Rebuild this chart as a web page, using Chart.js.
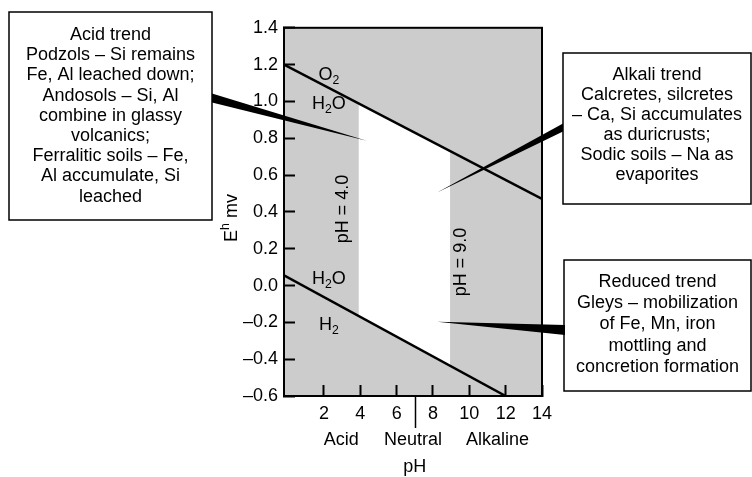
<!DOCTYPE html>
<html>
<head>
<meta charset="utf-8">
<script src="https://cdn.jsdelivr.net/npm/chart.js@4.4.0/dist/chart.umd.min.js"></script>
<style>
  html, body { margin: 0; padding: 0; background: #fff; }
  #wrap { width: 752px; height: 477px; }
</style>
</head>
<body>
<div id="wrap"><canvas id="ehChart" width="752" height="477"></canvas></div>
<script>
// water stability limits (pH, Eh)
var o2Ph = [-0.2, 14];
var o2Eh = [1.2, 0.47];
var h2Ph = [-0.2, 12];
var h2Eh = [0.055, -0.6];

// open window between pH 4 and pH 9, bounded by the two limits
var bandPh = [3.9, 8.95];
var bandTop = [0.99, 0.73];
var bandBottom = [-0.165, -0.435];

var xTicks = [2, 4, 6, 8, 10, 12, 14];
var yTicks = [-0.6, -0.4, -0.2, 0.0, 0.2, 0.4, 0.6, 0.8, 1.0, 1.2, 1.4];
var yTickText = ['–0.6', '–0.4', '–0.2', '0.0', '0.2', '0.4', '0.6', '0.8', '1.0', '1.2', '1.4'];

var rangeNames = ['Acid', 'Neutral', 'Alkaline'];
var rangePh = [2.95, 6.9, 11.55];

var acidText = ['Acid trend', 'Podzols – Si remains', 'Fe, Al leached down;', 'Andosols – Si, Al',
  'combine in glassy', 'volcanics;', 'Ferralitic soils – Fe,', 'Al accumulate, Si', 'leached'];
var alkaliText = ['Alkali trend', 'Calcretes, silcretes', '– Ca, Si accumulates', 'as duricrusts;',
  'Sodic soils – Na as', 'evaporites'];
var reducedText = ['Reduced trend', 'Gleys – mobilization', 'of Fe, Mn, iron', 'mottling and',
  'concretion formation'];

// where each callout points to (pH, Eh)
var acidTip = [4.35, 0.787];
var alkaliTip = [8.23, 0.505];
var reducedTip = [8.23, -0.197];

var FONT = '"Liberation Sans", Arial, Helvetica, sans-serif';
Chart.defaults.font.family = FONT;
Chart.defaults.font.size = 18;
Chart.defaults.color = '#000';

function pts(xs, ys) {
  return xs.map(function (x, i) { return { x: x, y: ys[i] }; });
}

// text with sub/superscript pieces, e.g. [['H'], ['2', 'sub'], ['O']]
function richText(ctx, parts, x, y, size) {
  var total = 0;
  parts.forEach(function (p) {
    ctx.font = (p[1] ? size * 0.68 : size) + 'px ' + FONT;
    total += ctx.measureText(p[0]).width;
  });
  var cx = x - total / 2;
  ctx.textAlign = 'left';
  ctx.textBaseline = 'middle';
  parts.forEach(function (p) {
    ctx.font = (p[1] ? size * 0.68 : size) + 'px ' + FONT;
    var dy = p[1] === 'sub' ? size * 0.32 : (p[1] === 'sup' ? -size * 0.38 : 0);
    ctx.fillText(p[0], cx, y + dy);
    cx += ctx.measureText(p[0]).width;
  });
}

function textBox(ctx, lines, l, t, r, b, firstY, step) {
  ctx.fillStyle = '#fff';
  ctx.fillRect(l, t, r - l, b - t);
  ctx.strokeStyle = '#000';
  ctx.lineWidth = 1.5;
  ctx.strokeRect(l, t, r - l, b - t);
  ctx.fillStyle = '#000';
  ctx.font = '18px ' + FONT;
  ctx.textAlign = 'center';
  ctx.textBaseline = 'middle';
  lines.forEach(function (s, i) {
    ctx.fillText(s, (l + r) / 2, firstY + i * step);
  });
}

function wedge(ctx, bx, by, half, tx, ty) {
  ctx.fillStyle = '#000';
  ctx.beginPath();
  ctx.moveTo(bx, by - half);
  ctx.lineTo(tx, ty);
  ctx.lineTo(bx, by + half);
  ctx.closePath();
  ctx.fill();
}

var decor = {
  id: 'decor',
  beforeDraw: function (chart) {
    var a = chart.chartArea, ctx = chart.ctx;
    ctx.save();
    ctx.fillStyle = '#fff';
    ctx.fillRect(0, 0, chart.width, chart.height);
    ctx.fillStyle = '#cccccc';
    ctx.fillRect(a.left, a.top, a.right - a.left, a.bottom - a.top);
    ctx.restore();
  },
  afterDatasetsDraw: function (chart) {
    var a = chart.chartArea, ctx = chart.ctx;
    var xs = chart.scales.x, ys = chart.scales.y;
    ctx.save();
    ctx.strokeStyle = '#000';
    ctx.lineWidth = 2;
    ctx.strokeRect(a.left, a.top, a.right - a.left, a.bottom - a.top);

    ctx.fillStyle = '#000';
    var lx = xs.getPixelForValue(2.27);
    richText(ctx, [['O'], ['2', 'sub']], lx, ys.getPixelForValue(1.143), 18);
    richText(ctx, [['H'], ['2', 'sub'], ['O']], lx, ys.getPixelForValue(0.986), 18);
    richText(ctx, [['H'], ['2', 'sub'], ['O']], lx, ys.getPixelForValue(0.034), 18);
    richText(ctx, [['H'], ['2', 'sub']], lx, ys.getPixelForValue(-0.213), 18);

    // boundary labels, rotated
    [[3.04, 0.416, 'pH = 4.0'], [9.56, 0.128, 'pH = 9.0']].forEach(function (lb) {
      ctx.save();
      ctx.translate(xs.getPixelForValue(lb[0]), ys.getPixelForValue(lb[1]));
      ctx.rotate(-Math.PI / 2);
      ctx.font = '18px ' + FONT;
      ctx.textAlign = 'center';
      ctx.textBaseline = 'middle';
      ctx.fillText(lb[2], 0, 0);
      ctx.restore();
    });
    ctx.restore();
  },
  afterDraw: function (chart) {
    var a = chart.chartArea, ctx = chart.ctx;
    var xs = chart.scales.x, ys = chart.scales.y;
    ctx.save();

    // neutral divider below the axis
    var nx = Math.round(xs.getPixelForValue(7)) + 0.5;
    ctx.strokeStyle = '#000';
    ctx.lineWidth = 1.5;
    ctx.beginPath();
    ctx.moveTo(nx, a.bottom);
    ctx.lineTo(nx, a.bottom + 32);
    ctx.stroke();

    ctx.fillStyle = '#000';
    ctx.font = '18px ' + FONT;
    ctx.textAlign = 'center';
    ctx.textBaseline = 'middle';
    rangeNames.forEach(function (n, i) {
      ctx.fillText(n, xs.getPixelForValue(rangePh[i]), a.bottom + 44);
    });
    ctx.fillText('pH', xs.getPixelForValue(7), a.bottom + 71);

    // y axis title: Eh mv
    ctx.save();
    ctx.translate(238, 218);
    ctx.rotate(-Math.PI / 2);
    richText(ctx, [['E'], ['h', 'sup'], [' mv']], 0, -6, 18);
    ctx.restore();

    // callout boxes and their pointers
    textBox(ctx, acidText, 9, 12, 212, 220, 35, 20.2);
    textBox(ctx, alkaliText, 563, 53, 751, 204, 75, 20);
    textBox(ctx, reducedText, 564, 260, 751, 391, 282, 21.2);
    wedge(ctx, 212, 98, 4.5, xs.getPixelForValue(acidTip[0]), ys.getPixelForValue(acidTip[1]));
    wedge(ctx, 563, 127.5, 4, xs.getPixelForValue(alkaliTip[0]), ys.getPixelForValue(alkaliTip[1]));
    wedge(ctx, 565, 330, 5, xs.getPixelForValue(reducedTip[0]), ys.getPixelForValue(reducedTip[1]));
    ctx.restore();
  }
};

new Chart(document.getElementById('ehChart').getContext('2d'), {
  type: 'line',
  data: {
    datasets: [
      {
        data: pts(bandPh, bandTop),
        borderWidth: 0, pointRadius: 0,
        fill: '+1', backgroundColor: '#ffffff', order: 2
      },
      {
        data: pts(bandPh, bandBottom),
        borderWidth: 0, pointRadius: 0, fill: false, order: 2
      },
      {
        data: pts(o2Ph, o2Eh),
        borderColor: '#000', borderWidth: 2.5, pointRadius: 0, fill: false, order: 1
      },
      {
        data: pts(h2Ph, h2Eh),
        borderColor: '#000', borderWidth: 2.5, pointRadius: 0, fill: false, order: 1
      }
    ]
  },
  options: {
    responsive: false,
    animation: false,
    layout: { padding: { left: 0, top: 14, right: 210, bottom: 0 } },
    plugins: {
      legend: { display: false },
      tooltip: { enabled: false },
      filler: { drawTime: 'beforeDatasetsDraw' }
    },
    scales: {
      x: {
        type: 'linear', min: -0.2, max: 14,
        afterBuildTicks: function (s) { s.ticks = xTicks.map(function (v) { return { value: v }; }); },
        afterFit: function (s) { s.height = 81; },
        grid: { drawOnChartArea: false, drawTicks: true, tickLength: -11, tickWidth: 2, tickColor: '#000' },
        border: { display: true, color: '#000', width: 2 },
        ticks: { padding: 18, autoSkip: false, maxRotation: 0, color: '#000' }
      },
      y: {
        type: 'linear', min: -0.6, max: 1.4,
        afterBuildTicks: function (s) { s.ticks = yTicks.map(function (v) { return { value: v }; }); },
        afterFit: function (s) { s.width = 284; },
        grid: { drawOnChartArea: false, drawTicks: true, tickLength: -11, tickWidth: 2, tickColor: '#000' },
        border: { display: true, color: '#000', width: 2 },
        ticks: {
          padding: 17, autoSkip: false, color: '#000',
          callback: function (v) {
            var i = yTicks.indexOf(v);
            return i >= 0 ? yTickText[i] : '';
          }
        }
      }
    }
  },
  plugins: [decor]
});
</script>
</body>
</html>
